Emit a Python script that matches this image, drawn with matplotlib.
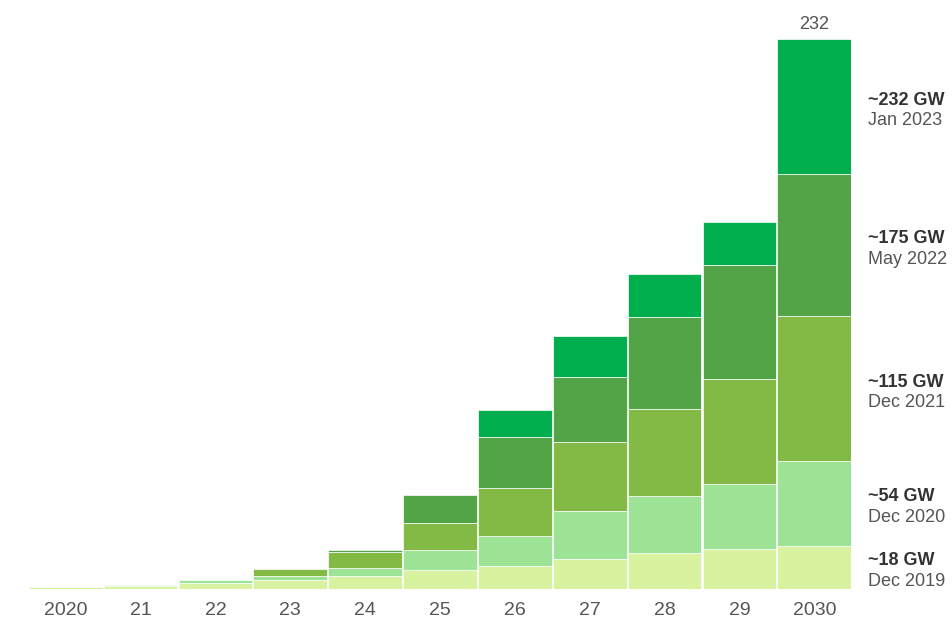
import matplotlib
matplotlib.use("Agg")
import matplotlib.pyplot as plt
import numpy as np

# ============================================================
# ДАННЫЕ: накопленная мощность (GW) по каждому прогнозу
# ============================================================
YEARS = ["2020", "21", "22", "23", "24", "25", "26", "27", "28", "29", "2030"]

DEC_2019 = [0.5, 0.9, 2.3, 3.7, 5.4, 7.7, 9.5, 12.5, 15.0, 16.5, 18]
DEC_2020 = [0.5, 1.35, 3.6, 5.1, 8.7, 16.3, 22.2, 32.9, 39.1, 44.2, 54]
DEC_2021 = [0.5, 1.35, 3.6, 8.4, 15.4, 27.5, 42.6, 61.9, 75.7, 88.4, 115]
MAY_2022 = [0.5, 1.35, 3.6, 8.4, 16.4, 39.6, 63.9, 89.4, 114.6, 136.6, 175]
JAN_2023 = [0.5, 1.35, 3.6, 8.4, 16.4, 39.6, 75.6, 106.7, 132.9, 154.7, 232]

SERIES_TITLES = ["~18 GW", "~54 GW", "~115 GW", "~175 GW", "~232 GW"]
SERIES_DATES = ["Dec 2019", "Dec 2020", "Dec 2021", "May 2022", "Jan 2023"]
COLORS = ["#D9F29F", "#9CE395", "#83B945", "#53A447", "#00AE4E"]

FONT = "Liberation Sans"


def main():
    plt.rcParams["font.family"] = [FONT, "DejaVu Sans"]

    fig = plt.figure(figsize=(9.52, 6.26), dpi=100)
    W, H = 952, 626
    # оси в пикселях: x 29..851, y (снизу) 38..587
    ax = fig.add_axes([29 / W, 37.5 / H, 822 / W, 549.2 / H])

    cum = np.array([DEC_2019, DEC_2020, DEC_2021, MAY_2022, JAN_2023], dtype=float)
    x = np.arange(len(YEARS))

    prev = np.zeros(len(YEARS))
    for k in range(cum.shape[0]):
        h = cum[k] - prev
        mask = h > 1e-6
        ax.bar(x[mask], h[mask], bottom=prev[mask], width=0.985,
               color=COLORS[k], edgecolor="white", linewidth=0.5)
        prev = cum[k]

    ax.set_xlim(-0.49, len(YEARS) - 0.51)
    ax.set_ylim(0, 232)
    for s in ax.spines.values():
        s.set_visible(False)
    ax.set_yticks([])
    ax.set_xticks(x)
    ax.set_xticklabels(YEARS, fontsize=14, color="#555555")
    ax.tick_params(axis="x", length=0, pad=10)

    # итог над последним столбцом
    last = len(YEARS) - 1
    ax.text(x[last], cum[-1, last] + 2.5, f"{cum[-1, last]:.0f}", ha="center", va="bottom",
            fontsize=13, color="#555555", clip_on=False)

    # подписи справа, по центру каждого сегмента последнего столбца
    lower = 0.0
    for k in range(cum.shape[0]):
        upper = cum[k, last]
        mid = (lower + upper) / 2
        ax.annotate(SERIES_TITLES[k], xy=(x[last] + 0.49, mid), xytext=(12, -1.5),
                    textcoords="offset points", ha="left", va="bottom",
                    fontsize=13, fontweight="bold", color="#333333", annotation_clip=False)
        ax.annotate(SERIES_DATES[k], xy=(x[last] + 0.49, mid), xytext=(12, -4),
                    textcoords="offset points", ha="left", va="top",
                    fontsize=13, color="#555555", annotation_clip=False)
        lower = upper

    fig.savefig("out.png", dpi=100)


if __name__ == "__main__":
    main()
